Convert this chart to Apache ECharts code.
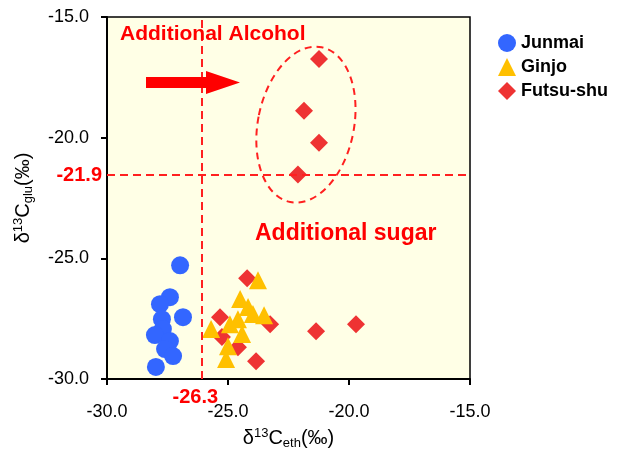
<!DOCTYPE html>
<html><head><meta charset="utf-8">
<script src="https://cdn.jsdelivr.net/npm/echarts@6/dist/echarts.min.js"></script>
<style>html,body{margin:0;padding:0;background:#fff}#c{width:619px;height:450px}</style>
</head><body><div id="c"></div>
<script>
// [δ13C_eth, δ13C_glu]
const junmai = [
  [-26.98,-25.29],[-27.40,-26.61],[-27.81,-26.90],[-26.86,-27.44],[-27.73,-27.52],
  [-27.69,-27.93],[-28.02,-28.18],[-27.40,-28.43],[-27.60,-28.76],[-27.27,-29.05],[-27.98,-29.50]
];
const ginjo = [
  [-23.76,-25.91],[-24.50,-26.69],[-24.17,-27.02],[-23.97,-27.31],[-23.51,-27.36],
  [-24.59,-27.52],[-24.92,-27.73],[-25.70,-27.93],[-24.42,-28.14],[-25.00,-28.64],[-25.08,-29.17]
];
const futsushu = [
  [-24.21,-25.83],[-25.33,-27.44],[-25.25,-28.26],[-24.59,-28.68],[-23.84,-29.26],[-23.26,-27.73],
  [-21.36,-28.02],[-19.71,-27.73],[-21.24,-16.74],[-21.86,-18.88],[-21.24,-20.21],[-22.11,-21.53]
];
const seriesNames = ['Junmai','Ginjo','Futsu-shu'];
const xTickValues = [-30,-25,-20,-15];
const yTickValues = [-30,-25,-20,-15];
const alcoholLineX = -26.1, alcoholLabel = '-26.3';
const sugarLineY = -21.55, sugarLabel = '-21.9';
const clusterCenter = [-21.78,-19.46];

const FONT = 'Arial, "Liberation Sans", sans-serif';
const chart = echarts.init(document.getElementById('c'));
const red = '#FF0000';
const richName = {
  n: {fontSize: 20, fontFamily: FONT, color: '#000'},
  sup: {fontSize: 13, fontFamily: FONT, color: '#000', padding: [0,0,10,0]},
  sub: {fontSize: 13, fontFamily: FONT, color: '#000', padding: [10,0,0,0]}
};
const option = {
  animation: false,
  backgroundColor: '#fff',
  textStyle: {fontFamily: FONT},
  grid: {left: 107, top: 17, right: 149, bottom: 71, containLabel: false, outerBoundsMode: 'none',
    show: true, backgroundColor: '#FFFFE6', borderColor: '#000', borderWidth: 1.5},
  legend: {
    orient: 'vertical', left: 493, top: 29, itemWidth: 18, itemHeight: 18, itemGap: 6,
    data: seriesNames,
    textStyle: {fontFamily: FONT, fontSize: 18, fontWeight: 'bold', color: '#000'}
  },
  xAxis: {
    type: 'value', min: -30, max: -15, interval: 5,
    axisLine: {show: true, onZero: false, lineStyle: {color: '#000', width: 2}},
    axisTick: {show: true, length: 6, lineStyle: {color: '#000', width: 2}},
    splitLine: {show: false},
    axisLabel: {margin: 24, fontSize: 18, color: '#000', fontFamily: FONT,
      formatter: v => xTickValues.includes(v) ? v.toFixed(1) : ''},
    name: '{n|δ}{sup|13}{n|C}{sub|eth}{n|(‰)}', nameLocation: 'middle', nameGap: 48,
    nameTextStyle: {fontFamily: FONT, color: '#000', rich: richName}
  },
  yAxis: {
    type: 'value', min: -30, max: -15, interval: 5,
    axisLine: {show: true, onZero: false, lineStyle: {color: '#000', width: 2}},
    axisTick: {show: true, length: 6, lineStyle: {color: '#000', width: 2}},
    splitLine: {show: false},
    axisLabel: {margin: 18, fontSize: 18, color: '#000', fontFamily: FONT,
      formatter: v => yTickValues.includes(v) ? v.toFixed(1) : ''},
    name: '{n|δ}{sup|13}{n|C}{sub|glu}{n|(‰)}', nameLocation: 'middle', nameGap: 72, nameRotate: 90,
    nameTextStyle: {fontFamily: FONT, color: '#000', rich: richName}
  },
  series: [
    {
      name: 'Junmai', type: 'scatter', data: junmai, symbol: 'circle', symbolSize: 18, z: 4,
      itemStyle: {color: '#3366FF', opacity: 1},
      markLine: {
        silent: true, symbol: 'none', animation: false,
        lineStyle: {color: '#FF2020', type: [8,5], width: 2},
        data: [
          {xAxis: alcoholLineX, label: {show: true, position: 'start', formatter: alcoholLabel, distance: 8, offset: [-6,0],
            color: red, fontSize: 20, fontWeight: 'bold', fontFamily: FONT}},
          {yAxis: sugarLineY, label: {show: true, position: 'start', formatter: sugarLabel, distance: 5,
            color: red, fontSize: 20, fontWeight: 'bold', fontFamily: FONT}}
        ]
      }
    },
    {name: 'Ginjo', type: 'scatter', data: ginjo, symbol: 'triangle', symbolSize: 18, z: 3,
      itemStyle: {color: '#FFC000', opacity: 1}},
    {name: 'Futsu-shu', type: 'scatter', data: futsushu, symbol: 'diamond', symbolSize: 18, z: 2,
      itemStyle: {color: '#EE3333', opacity: 1}}
  ]
};
chart.setOption(option);

const c = chart.convertToPixel({gridIndex: 0}, clusterCenter);
chart.setOption({
  graphic: [
    {type: 'text', left: 120, top: 24, z: 10,
      style: {text: 'Additional Alcohol', fill: red, font: 'bold 21px ' + FONT}},
    {type: 'text', left: 255, top: 222, z: 10,
      style: {text: 'Additional sugar', fill: red, font: 'bold 23px ' + FONT}},
    {type: 'polygon', z: 10,
      shape: {points: [[146,77],[206,77],[206,71],[240,82.5],[206,94],[206,88],[146,88]]},
      style: {fill: red}},
    {type: 'ellipse', z: 10, x: c[0], y: c[1], rotation: -0.2,
      shape: {cx: 0, cy: 0, rx: 48, ry: 79},
      style: {fill: 'none', stroke: '#FF2020', lineWidth: 2, lineDash: [7,5]}}
  ]
});
</script></body></html>
